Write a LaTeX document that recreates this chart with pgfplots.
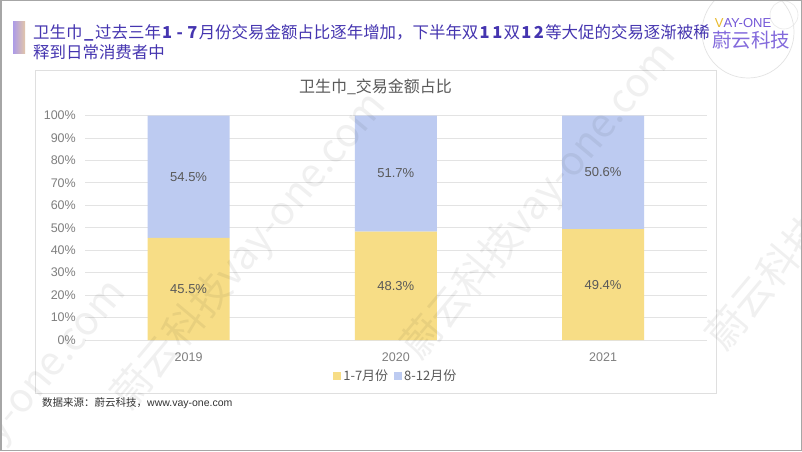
\documentclass[border=0pt]{standalone}
\usepackage{fontspec}
\setmainfont{Liberation Sans}
\newfontfamily\cjk{Noto Sans CJK SC}
\usepackage{pgfplots}
\pgfplotsset{compat=1.18}

\definecolor{barY}{HTML}{F7DD86}
\definecolor{barB}{HTML}{BDCBF1}
\definecolor{titleC}{HTML}{4535B0}
\definecolor{logoC}{HTML}{7559D8}
\definecolor{logoG}{HTML}{E8B928}
\definecolor{txtGray}{HTML}{595959}
\definecolor{tickGray}{HTML}{7F7F7F}
\definecolor{gridGray}{HTML}{E3E3E3}
% wide bold digits as in the headline
\newcommand\dg[1]{\makebox[12.6pt]{\bfseries #1}}

\pgfplotsset{
  frame/.style={
    at={(85pt,111pt)}, anchor=south west,
    scale only axis, width=621.7pt, height=224.5pt,
    xmin=-0.5, xmax=2.5, ymin=0, ymax=100,
  }
}

\begin{document}
\begin{tikzpicture}[x=1pt,y=1pt]
\path[use as bounding box] (0,0) rectangle (802,451);
\fill[white] (0,0) rectangle (802,451);

% logo bubble
\draw[gray!22, line width=0.7pt] (748,419) circle (46);
\draw[gray!18, line width=0.6pt] (784,436) circle (14);

% headline
\shade[left color=logoC!60, right color=brown!45] (13,429) rectangle (25,398);
\node[anchor=west, inner sep=0pt, text=titleC, font=\cjk\fontsize{16.45}{18}\selectfont]
  at (33,418) {卫生巾\dg{\_}过去三年\dg{1}\dg{-}\dg{7}月份交易金额占比逐年增加，下半年双\dg{1}\dg{1}双\dg{1}\dg{2}等大促的交易逐渐被稀};
\node[anchor=west, inner sep=0pt, text=titleC, font=\cjk\fontsize{16.45}{18}\selectfont]
  at (33,399) {释到日常消费者中};

% logo
\node[inner sep=0pt, font=\fontsize{13}{14}\selectfont] at (743,428)
  {\textcolor{logoG}{V}\textcolor{logoC}{AY-ONE}};
\node[inner sep=0pt, text=logoC!90, font=\cjk\fontsize{19.5}{20}\selectfont] at (751,411) {蔚云科技};

% chart frame
\draw[gray!25, line width=0.8pt] (35,381) rectangle (716,58);
\node[text=txtGray, font=\cjk\fontsize{16}{18}\selectfont] at (375.5,364) {卫生巾\_交易金额占比};

\begin{axis}[
  frame,
  ybar stacked, bar width=82pt,
  xtick={0,1,2}, xticklabels={2019,2020,2021},
  ytick={0,10,...,100},
  yticklabel={\pgfmathprintnumber{\tick}\%},
  /pgf/number format/assume math mode=true,
  axis line style={draw=none},
  major tick length=0pt,
  ymajorgrids, grid style={draw=gridGray, line width=0.8pt},
  tick label style={font=\fontsize{12.5}{14}\selectfont, text=tickGray},
  yticklabel style={anchor=east, inner sep=0pt, xshift=-9pt},
  xticklabel style={anchor=north, inner sep=0pt, yshift=-12.5pt},
  legend style={at={(0.5,-0.16)}, anchor=center, legend columns=2, draw=none, fill=none,
    font=\cjk\fontsize{13}{15}\selectfont, text=txtGray,
    /tikz/every even column/.append style={column sep=4pt}},
  legend image code/.code={\fill[#1] (0pt,-4pt) rectangle (8pt,4pt);},
]
\addplot[fill=barY, draw=none] coordinates {(0,45.5) (1,48.3) (2,49.4)};
\addplot[fill=barB, draw=none] coordinates {(0,54.5) (1,51.7) (2,50.6)};
\legend{1-7月份, 8-12月份}
\end{axis}

% segment labels, at the middle of each segment
\begin{axis}[frame, hide axis]
\addplot[draw=none, mark=none, nodes near coords, point meta=explicit symbolic,
  every node near coord/.append style={anchor=center, text=txtGray, font=\fontsize{13}{15}\selectfont}]
  coordinates {(0,22.75) [45.5\%] (1,24.15) [48.3\%] (2,24.7) [49.4\%]
               (0,72.75) [54.5\%] (1,74.15) [51.7\%] (2,74.7) [50.6\%]};
\end{axis}

% source
\node[anchor=west, inner sep=0pt, text=black!80, font=\cjk\fontsize{10.5}{12}\selectfont]
  at (42,48) {数据来源：蔚云科技，{\rmfamily www.vay-one.com}};

% watermark
\begin{scope}[text opacity=0.06, font=\cjk\fontsize{40}{40}\selectfont]
\node[rotate=50] at (250,200) {蔚云科技vay-one.com};
\node[rotate=50] at (540,250) {蔚云科技vay-one.com};
\node[rotate=50] at (45,70) {vay-one.com};
\node[rotate=50] at (765,170) {蔚云科技};
\end{scope}

% outer border
\draw[gray!70, line width=1.5pt] (0.75,0.75) rectangle (801.25,450.25);
\end{tikzpicture}
\end{document}
